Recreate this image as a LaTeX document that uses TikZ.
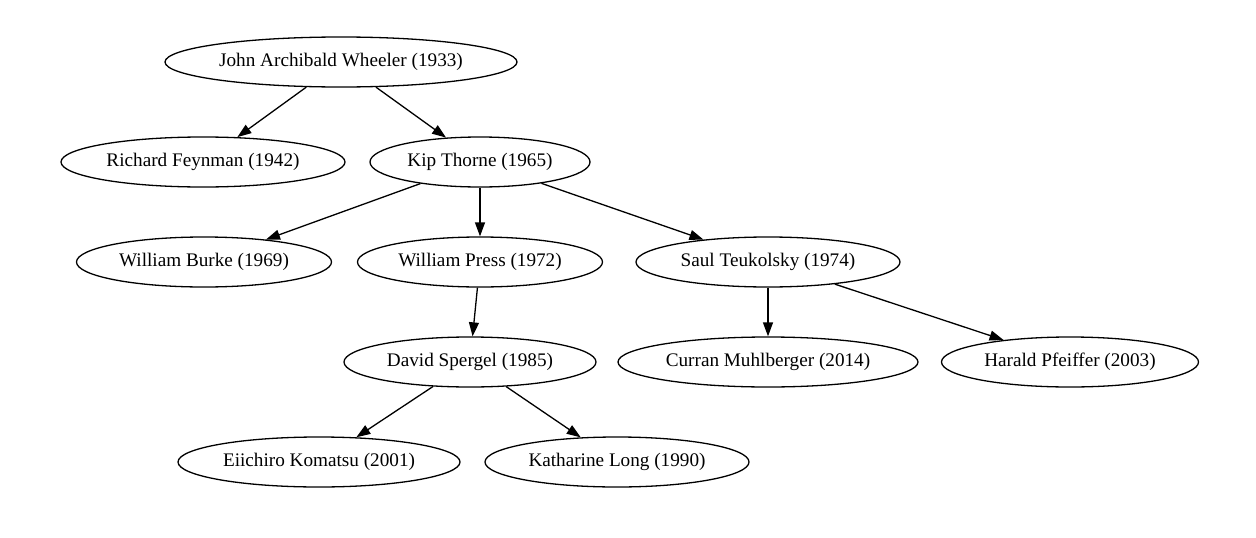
\documentclass[tikz,border=0pt]{standalone}
\usepackage{fontspec}
\setmainfont{Liberation Serif}
\usetikzlibrary{shapes.geometric,arrows.meta}
\tikzset{
  person/.style={ellipse, draw, line width=1.3pt, inner sep=0pt, minimum height=50pt,
    font=\fontsize{19.2}{23}\selectfont},
  edge/.style={line width=1.3pt, -{Triangle[length=14pt,width=10pt]}}
}
\begin{document}
\begin{tikzpicture}[x=1pt,y=-1pt]
\fill[white] (0,0) rectangle (1256,538);
\useasboundingbox (0,0) rectangle (1256,538);
\node[person, minimum width=352pt] (wheeler) at (341,62) {John Archibald Wheeler (1933)};
\node[person, minimum width=284pt] (feynman) at (203,162) {Richard Feynman (1942)};
\node[person, minimum width=220pt] (thorne) at (480,162) {Kip Thorne (1965)};
\node[person, minimum width=255pt] (burke) at (204,262) {William Burke (1969)};
\node[person, minimum width=245pt] (press) at (480,262) {William Press (1972)};
\node[person, minimum width=264pt] (teukolsky) at (768,262) {Saul Teukolsky (1974)};
\node[person, minimum width=252pt] (spergel) at (470,362) {David Spergel (1985)};
\node[person, minimum width=300pt] (muhlberger) at (768,362) {Curran Muhlberger (2014)};
\node[person, minimum width=257pt] (pfeiffer) at (1070,362) {Harald Pfeiffer (2003)};
\node[person, minimum width=282pt] (komatsu) at (319,462) {Eiichiro Komatsu (2001)};
\node[person, minimum width=264pt] (long) at (617,462) {Katharine Long (1990)};
\draw[edge] (wheeler) -- (feynman);
\draw[edge] (wheeler) -- (thorne);
\draw[edge] (thorne) -- (burke);
\draw[edge] (thorne) -- (press);
\draw[edge] (thorne) -- (teukolsky);
\draw[edge] (press) -- (spergel);
\draw[edge] (teukolsky) -- (muhlberger);
\draw[edge] (teukolsky) -- (pfeiffer);
\draw[edge] (spergel) -- (komatsu);
\draw[edge] (spergel) -- (long);
\end{tikzpicture}
\end{document}
